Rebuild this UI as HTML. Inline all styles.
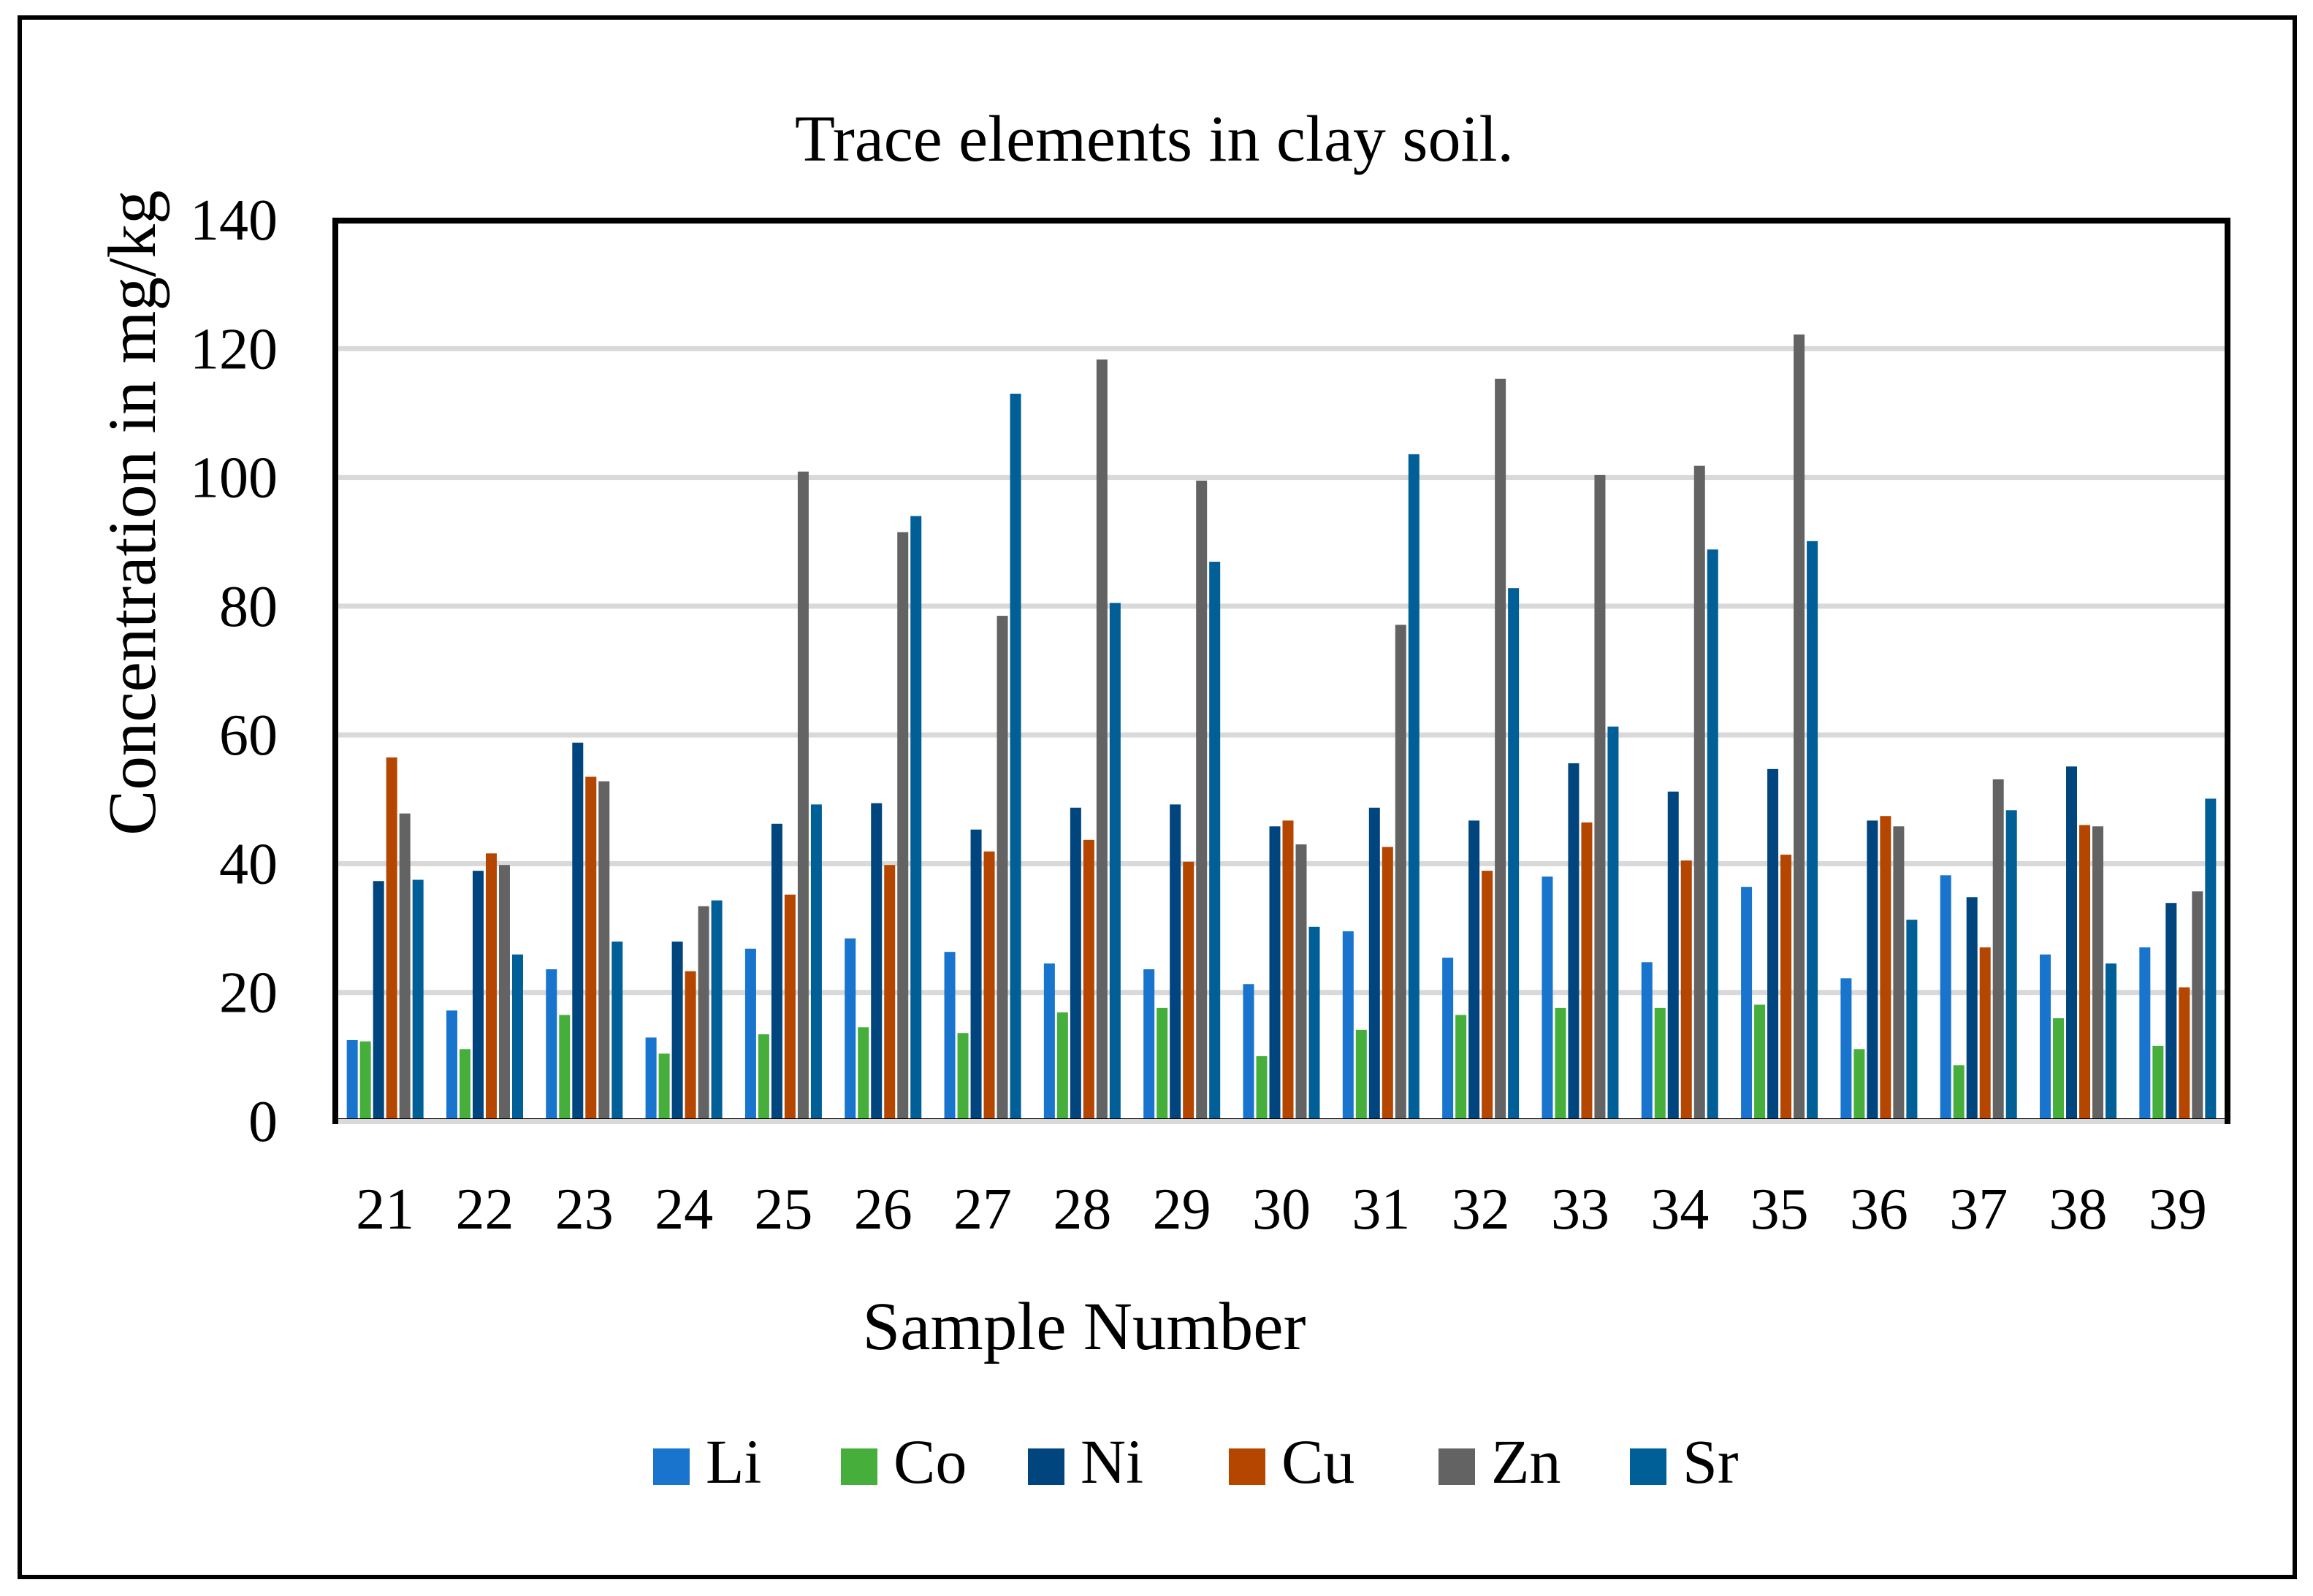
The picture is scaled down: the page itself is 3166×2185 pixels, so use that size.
<!DOCTYPE html>
<html><head><meta charset="utf-8"><style>html,body{margin:0;padding:0;background:#fff}svg{display:block}text{font-family:"Liberation Serif",serif;fill:#000}</style></head>
<body>
<svg id="chart" width="3166" height="2185" viewBox="0 0 3166 2185" xmlns="http://www.w3.org/2000/svg">
<rect x="27" y="24" width="3114" height="2135" fill="#fff" stroke="#000" stroke-width="6"/>
<text x="1580" y="220" font-size="90" text-anchor="middle">Trace elements in clay soil.</text>
<g id="grid"></g>
<g id="bars"></g>
<g id="yticks"></g>
<g id="xticks"></g>
<rect x="459" y="302" width="2590" height="1233" fill="none" stroke="#000" stroke-width="8"/>
<rect x="463" y="1532" width="2582" height="7" fill="#d9d9d9"/>
<text transform="translate(212,702) rotate(-90)" font-size="93" text-anchor="middle">Concentration in mg/kg</text>
<text x="1484" y="1847" font-size="93" text-anchor="middle">Sample Number</text>
<g id="legend"></g>
</svg>
<script>
const categories = ["21","22","23","24","25","26","27","28","29","30","31","32","33","34","35","36","37","38","39"];
const seriesNames = ["Li","Co","Ni","Cu","Zn","Sr"];
const Li = [12.6,17.2,23.6,13,26.8,28.4,26.3,24.5,23.6,21.3,29.5,25.4,38,24.7,36.4,22.2,38.2,25.9,27];
const Co = [12.4,11.2,16.5,10.5,13.5,14.6,13.7,16.9,17.6,10.1,14.2,16.5,17.6,17.6,18.1,11.2,8.7,16,11.7];
const Ni = [37.3,38.9,58.8,27.9,46.2,49.4,45.3,48.7,49.2,45.8,48.7,46.7,55.6,51.2,54.7,46.7,34.8,55.1,33.9];
const Cu = [56.5,41.6,53.5,23.3,35.2,39.8,41.9,43.7,40.3,46.7,42.6,38.9,46.4,40.5,41.4,47.4,27,46,20.8];
const Zn = [47.8,39.8,52.8,33.4,100.9,91.5,78.5,118.3,99.5,43,77.1,115.3,100.4,101.8,122.2,45.8,53.1,45.8,35.7];
const Sr = [37.5,25.9,27.9,34.3,49.2,94,113,80.5,86.9,30.2,103.6,82.8,61.3,88.8,90.1,31.3,48.3,24.5,50.1];
const yTicks = [0,20,40,60,80,100,120,140];
const series = [Li,Co,Ni,Cu,Zn,Sr];
const colors = ["#1874cd","#46af3c","#00457e","#b54600","#636363","#005f96"];
const NS="http://www.w3.org/2000/svg";
const X0=459,X1=3049,Y0=1535,Y1=301,VMAX=140;
const y=v=>Y0-(v/VMAX)*(Y0-Y1);
const band=(X1-X0)/categories.length;
const xc=i=>X0+band*(i+0.5);
const BW=15,STEP=18;
function mk(t,a){const e=document.createElementNS(NS,t);for(const k in a)e.setAttribute(k,a[k]);return e;}
const grid=document.getElementById('grid'),yt=document.getElementById('yticks');
yTicks.forEach(v=>{
 if(v>0&&v<VMAX){const l=mk('rect',{x:X0,y:y(v)-3.5,width:X1-X0,height:7,fill:'#d9d9d9'});
 
 
 grid.appendChild(l);}
 const t=mk('text',{x:380,y:y(v)+27,'font-size':80,'text-anchor':'end'});t.textContent=v;
 
 
 yt.appendChild(t);
});
const bars=document.getElementById('bars'),xt=document.getElementById('xticks');
categories.forEach((c,i)=>{
 const start=xc(i)-(STEP*5+BW)/2;
 series.forEach((s,j)=>{
  const r=mk('rect',{x:start+j*STEP,y:y(s[i]),width:BW,height:Y0-y(s[i]),fill:colors[j]});
  
  
  bars.appendChild(r);
 });
 const t=mk('text',{x:xc(i),y:1682,'font-size':80,'text-anchor':'middle'});t.textContent=c;
 
 
 xt.appendChild(t);
});
const lg=document.getElementById('legend');
const lx=[894,1151,1407,1682,1969,2231];
seriesNames.forEach((n,j)=>{
 const g=mk('g',{});
 
 
 g.appendChild(mk('rect',{x:lx[j],y:1983,width:50,height:50,fill:colors[j]}));
 const t=mk('text',{x:lx[j]+72,y:2030,'font-size':86});t.textContent=n;g.appendChild(t);
 lg.appendChild(g);
});
</script>
</body></html>
